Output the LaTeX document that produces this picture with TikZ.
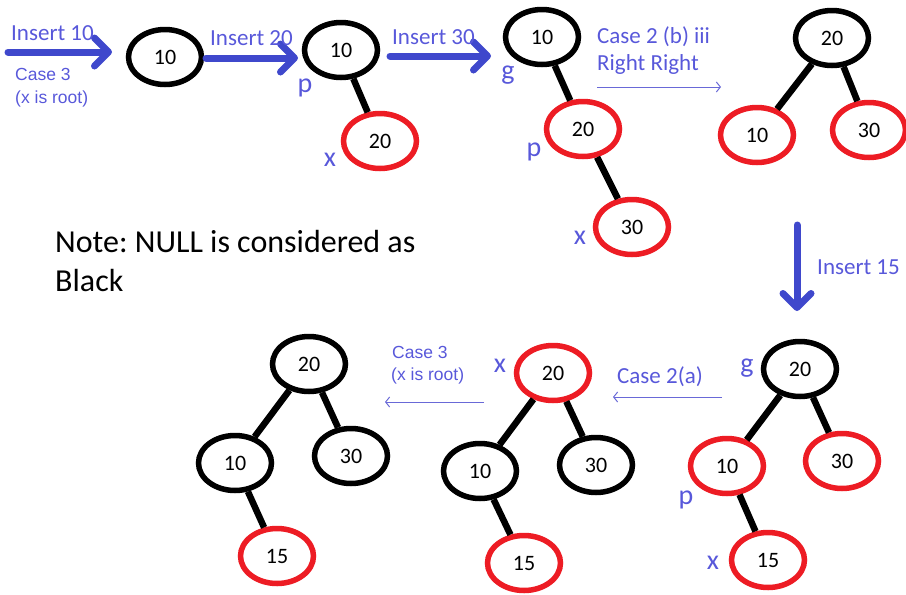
\documentclass[tikz,border=0pt]{standalone}
\usepackage{fontspec}
\setmainfont{Carlito}
\newfontfamily\arialf{Liberation Sans}
\usetikzlibrary{shapes.geometric,arrows.meta}
\frenchspacing

\definecolor{nodered}{RGB}{237,28,36}
\definecolor{thickblue}{RGB}{63,72,204}
\definecolor{labblue}{RGB}{88,88,218}
\definecolor{thinblue}{RGB}{105,105,215}

\tikzset{
  rbnode/.style={ellipse, draw, line width=5.5, minimum width=73, minimum height=55,
    inner sep=0, font=\fontsize{22}{23}\selectfont},
  blk/.style={rbnode, draw=black},
  redn/.style={rbnode, draw=nodered},
  edge/.style={line width=6.5, black},
  bigarrow/.style={line width=7, thickblue, line cap=round,
    -{Straight Barb[length=14, width=28, line cap=round, line join=round]}},
  thinarrow/.style={line width=1, thinblue,
    -{Straight Barb[length=4, width=10]}},
  lab/.style={text=labblue, anchor=base west, inner sep=0, font=\fontsize{23}{25}\selectfont},
  small/.style={text=labblue, anchor=base west, inner sep=0, font=\arialf\fontsize{17.5}{19}\selectfont},
  ptr/.style={text=labblue, inner sep=0, font=\fontsize{28}{29}\selectfont},
  note/.style={anchor=base west, inner sep=0, font=\fontsize{32}{34}\selectfont}
}

\begin{document}
\begin{tikzpicture}[x=1pt, y=-1pt]
\useasboundingbox (0,0) rectangle (906,595);

% ---- tree 1: single black root
\node[blk] (t1) at (165,57) {10};

% ---- tree 2
\node[blk]  (t2r) at (341,50)  {10};
\node[redn] (t2c) at (380,141) {20};
\draw[edge] (t2r) -- (t2c);
\node[ptr] (t2p) at (305,88)  {p};
\node[ptr] (t2x) at (330,160) {x};

% ---- tree 3
\node[blk]  (t3r) at (542,37)  {10};
\node[redn] (t3p) at (583,129) {20};
\node[redn] (t3x) at (632,227) {30};
\draw[edge] (t3r) -- (t3p);
\draw[edge] (t3p) -- (t3x);
\node[ptr] (t3gl) at (508,75)  {g};
\node[ptr] (t3pl) at (534,152) {p};
\node[ptr] (t3xl) at (580,238) {x};

% ---- tree 4 (after rotation)
\node[blk]  (t4r)  at (832,38)  {20};
\node[redn] (t4l)  at (757,135) {10};
\node[redn] (t4rr) at (869,130) {30};
\draw[edge] (t4r) -- (t4l);
\draw[edge] (t4r) -- (t4rr);

% ---- tree 5
\node[blk]  (t5r)  at (800,369) {20};
\node[redn] (t5l)  at (727,466) {10};
\node[redn] (t5rr) at (842,461) {30};
\node[redn] (t5x)  at (768,560) {15};
\draw[edge] (t5r) -- (t5l);
\draw[edge] (t5r) -- (t5rr);
\draw[edge] (t5l) -- (t5x);
\node[ptr] (t5gl) at (747,368) {g};
\node[ptr] (t5pl) at (686,500) {p};
\node[ptr] (t5xl) at (713,563) {x};

% ---- tree 6 (after recolouring)
\node[redn] (t6r)  at (553,373) {20};
\node[blk]  (t6l)  at (480,471) {10};
\node[blk]  (t6rr) at (596,465) {30};
\node[redn] (t6x)  at (524,563) {15};
\draw[edge] (t6r) -- (t6l);
\draw[edge] (t6r) -- (t6rr);
\draw[edge] (t6l) -- (t6x);
\node[ptr] (t6xl) at (500,366) {x};

% ---- tree 7 (final)
\node[blk]  (t7r)  at (309,364) {20};
\node[blk]  (t7l)  at (235,463) {10};
\node[blk]  (t7rr) at (351,456) {30};
\node[redn] (t7x)  at (277,556) {15};
\draw[edge] (t7r) -- (t7l);
\draw[edge] (t7r) -- (t7rr);
\draw[edge] (t7l) -- (t7x);

% ---- thick insertion arrows
\coordinate (a1s) at (8,52);    \coordinate (a1e) at (112,52);
\coordinate (a2s) at (206,58);  \coordinate (a2e) at (298,58);
\coordinate (a3s) at (390,56);  \coordinate (a3e) at (491,56);
\coordinate (a4s) at (797,225); \coordinate (a4e) at (797,311);
\draw[bigarrow] (a1s) -- (a1e);
\draw[bigarrow] (a2s) -- (a2e);
\draw[bigarrow] (a3s) -- (a3e);
\draw[bigarrow] (a4s) -- (a4e);

% ---- thin transformation arrows
\coordinate (b1s) at (597,87);  \coordinate (b1e) at (721,87);
\coordinate (b2s) at (722,397); \coordinate (b2e) at (613,397);
\coordinate (b3s) at (484,402); \coordinate (b3e) at (385,402);
\draw[thinarrow] (b1s) -- (b1e);
\draw[thinarrow] (b2s) -- (b2e);
\draw[thinarrow] (b3s) -- (b3e);

% ---- labels
\node[lab] (l1) at (11,40) {Insert 10};
\node[small] (l1a) at (15,80) {Case 3};
\node[small] (l1b) at (15,103) {(x is root)};
\node[lab] (l2) at (210,45) {Insert 20};
\node[lab] (l3) at (392,44) {Insert 30};
\node[lab] (l4a) at (597,43) {Case 2 (b) iii};
\node[lab] (l4b) at (597,70) {Right Right};
\node[lab] (l5) at (817,274) {Insert 15};
\node[lab] (l6) at (617,383) {Case 2(a)};
\node[small] (l7a) at (392,358) {Case 3};
\node[small] (l7b) at (391,380) {(x is root)};

% ---- note
\node[note] (n1) at (55,252) {Note: NULL is considered as};
\node[note] (n2) at (55,291) {Black};
\end{tikzpicture}
\end{document}
